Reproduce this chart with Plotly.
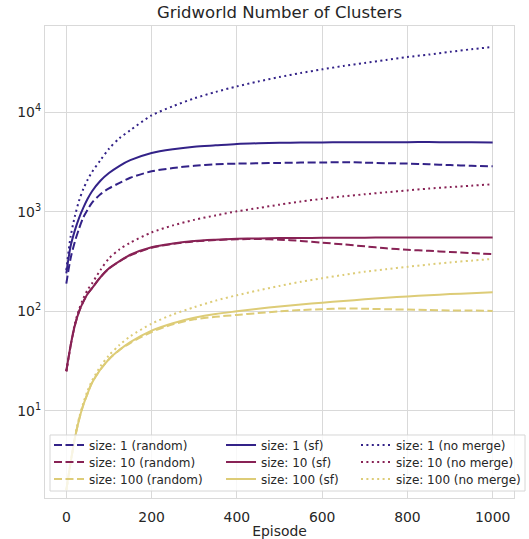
import plotly.graph_objects as go

episodes = [0, 10, 20, 30, 40, 50, 60, 80, 100, 125, 150, 200, 250, 300, 350, 400,
            450, 500, 550, 600, 650, 700, 750, 800, 850, 900, 950, 1000]

# size 1
s1_random = [190, 340, 500, 680, 880, 1050, 1230, 1500, 1720, 1950, 2200, 2550, 2750, 2900, 3000, 3050,
             3070, 3100, 3120, 3130, 3150, 3120, 3080, 3050, 3000, 2950, 2900, 2870]
s1_sf = [240, 450, 650, 870, 1100, 1350, 1600, 2050, 2450, 2900, 3300, 3900, 4250, 4500, 4650, 4800,
         4880, 4930, 4960, 4980, 4990, 5000, 5000, 5010, 5020, 5000, 4990, 4980]
s1_nomerge = [260, 560, 900, 1300, 1700, 2100, 2500, 3300, 4300, 5500, 6600, 9300, 11500, 13800, 16000, 18200,
              20400, 22600, 24800, 27000, 29200, 31300, 33500, 35900, 38000, 40500, 43000, 45300]
# size 10
s10_random = [25, 45, 72, 100, 125, 150, 170, 220, 268, 318, 365, 435, 475, 505, 520, 530,
              532, 525, 510, 490, 470, 450, 430, 415, 405, 395, 385, 375]
s10_sf = [25, 45, 72, 100, 125, 150, 170, 220, 270, 320, 370, 440, 480, 510, 525, 535,
          540, 545, 545, 548, 550, 550, 551, 552, 552, 552, 552, 552]
s10_nomerge = [25, 45, 75, 105, 135, 165, 190, 260, 340, 420, 490, 620, 730, 830, 920, 1010,
               1090, 1180, 1270, 1350, 1430, 1500, 1570, 1640, 1710, 1770, 1830, 1890]
# size 100
s100_random = [1.6, 3.0, 5.3, 8.2, 11.5, 15, 19, 26, 33, 41, 48, 62, 74, 83, 88, 92,
               96, 100, 103, 105, 107, 106, 105, 104, 103, 102, 102, 101]
s100_sf = [1.6, 3.0, 5.3, 8.2, 11.5, 15, 19, 26, 33, 41, 49, 64, 76, 86, 94, 100,
           106, 112, 117, 122, 127, 132, 137, 141, 145, 149, 152, 155]
s100_nomerge = [1.6, 3.0, 5.5, 8.5, 12, 16, 20, 28, 36, 46, 56, 75, 93, 110, 128, 145,
                162, 180, 198, 215, 232, 250, 265, 280, 295, 310, 323, 336]

colors = {"1": "#332288", "10": "#882255", "100": "#DDCC77"}
dashes = {"random": "8px,3.5px", "sf": "solid", "no merge": "2px,3.4px"}

series = [
    ("1", "random", s1_random), ("10", "random", s10_random), ("100", "random", s100_random),
    ("1", "sf", s1_sf), ("10", "sf", s10_sf), ("100", "sf", s100_sf),
    ("1", "no merge", s1_nomerge), ("10", "no merge", s10_nomerge), ("100", "no merge", s100_nomerge),
]

FONT = "DejaVu Sans"
TXT = "#262626"
GRID = "#d9d9d9"

# legend layout: one legend per entry, arranged in 3 columns x 3 rows
col_x = {"random": 0.0085, "sf": 0.3753, "no merge": 0.6631}
row_y = {"1": 0.1123, "10": 0.0763, "100": 0.0403}

fig = go.Figure()
legends = {}
for i, (size, method, vals) in enumerate(series):
    key = "legend" if i == 0 else f"legend{i + 1}"
    fig.add_trace(go.Scatter(
        x=episodes, y=vals, mode="lines",
        name=f"size: {size} ({method})",
        line=dict(color=colors[size], width=2.0, dash=dashes[method], shape="spline", smoothing=0.8),
        legend=key, showlegend=True,
    ))
    legends[key] = dict(x=col_x[method], y=row_y[size], xanchor="left", yanchor="middle",
                        bgcolor="rgba(0,0,0,0)", borderwidth=0,
                        font=dict(family=FONT, size=12, color=TXT))

fig.update_layout(
    width=529, height=539,
    showlegend=True,
    margin=dict(l=45, r=15, t=26, b=41, autoexpand=False),
    paper_bgcolor="white", plot_bgcolor="white",
    font=dict(family=FONT, color=TXT),
    title=dict(text="Gridworld Number of Clusters", x=0.5, xref="paper", xanchor="center",
               y=1 - 12 / 539, yref="container", yanchor="middle",
               font=dict(family=FONT, size=16.5, color=TXT)),
    xaxis=dict(range=[-50, 1050], tickvals=[0, 200, 400, 600, 800, 1000],
               showgrid=True, gridcolor=GRID, gridwidth=1, zeroline=False,
               showline=True, mirror=True, linecolor=GRID, linewidth=1.25,
               ticks="", ticklabelstandoff=6, automargin=False,
               tickfont=dict(family=FONT, size=13.9, color=TXT),
               title=dict(text="Episode", font=dict(family=FONT, size=13.9, color=TXT))),
    yaxis=dict(type="log", range=[0.124, 4.867], automargin=False,
               tickvals=[10, 100, 1000, 10000],
               ticktext=["10<sup>1</sup>", "10<sup>2</sup>", "10<sup>3</sup>", "10<sup>4</sup>"],
               showgrid=True, gridcolor=GRID, gridwidth=1, zeroline=False,
               showline=True, mirror=True, linecolor=GRID, linewidth=1.25,
               ticks="", tickfont=dict(family=FONT, size=13.9, color=TXT)),
    shapes=[dict(type="rect", xref="paper", yref="paper",
                 x0=0.0107, x1=1.0235, y0=0.0148, y1=0.1335,
                 line=dict(color="#d6d6d6", width=1), fillcolor="rgba(255,255,255,0.8)",
                 layer="above")],
    **legends,
)

fig.write_html("out.html")
